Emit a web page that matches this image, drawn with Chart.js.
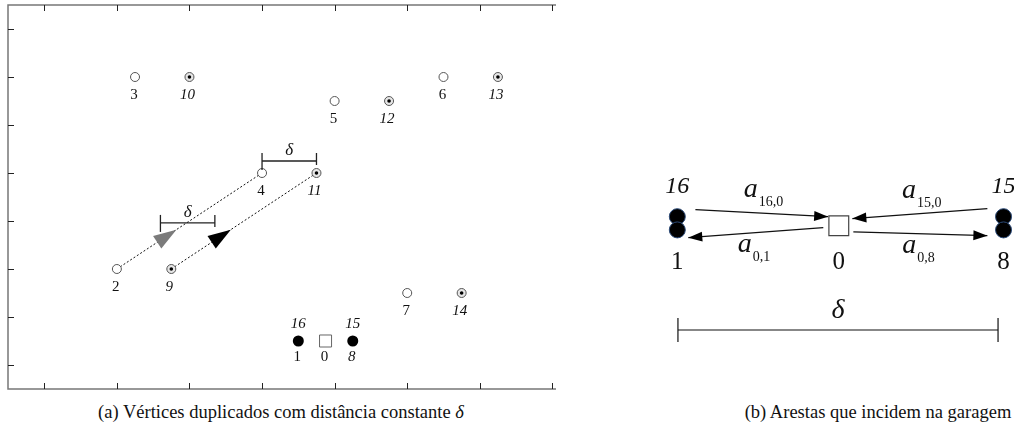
<!DOCTYPE html>
<html>
<head>
<meta charset="utf-8">
<script src="https://cdn.jsdelivr.net/npm/chart.js@4.4.0/dist/chart.umd.min.js"></script>
<style>
  body { margin: 0; width: 1014px; height: 439px; overflow: hidden; background: #fff; position: relative; font-family: 'Liberation Serif', 'DejaVu Serif', serif; }
  #wrapA { position: absolute; left: 0; top: 0; width: 560px; height: 400px; }
  #wrapB { position: absolute; left: 645px; top: 145px; width: 369px; height: 226px; }
  .caption { position: absolute; top: 402px; font-size: 18.5px; color: #111; white-space: nowrap; transform: translateX(-50%); }
</style>
</head>
<body>
<div id="wrapA"><canvas id="chartA" width="560" height="400"></canvas></div>
<div id="wrapB"><canvas id="chartB" width="369" height="226"></canvas></div>
<div class="caption" style="left:281px">(a) Vértices duplicados com distância constante <i>δ</i></div>
<div class="caption" style="left:878px">(b) Arestas que incidem na garagem</div>
<script>
// ---- panel (a): vertices and their duplicates ----
const origX = [1, 1.25, 3, 4, 5.5, 5];
const origY = [5, 1, 3, 1.5, 1, 5.5];
const origNames = ['2', '3', '4', '5', '6', '7'];

const dupX = [1.75, 2, 3.75, 4.75, 6.25, 5.75];
const dupY = [5, 1, 3, 1.5, 1, 5.5];
const dupNames = ['9', '10', '11', '12', '13', '14'];

const garageX = [3.5, 4.25];
const garageY = [6.5, 6.5];
const garageNames = ['1', '8'];
const garageTwins = ['16', '15'];

const depotX = [3.875];
const depotY = [6.5];

const xTicks = [0, 1, 2, 3, 4, 5, 6, 7];
const yTicks = [0, 1, 2, 3, 4, 5, 6, 7];

// dotted routes 2 -> 4 and 9 -> 11 (index into the arrays above)
const routeFrom = [0, 0];
const routeTo = [2, 2];
const arrowPos = 0.41;

// delta brackets
const deltaX0 = [3, 1.6];
const deltaX1 = [3.75, 2.35];
const deltaY = [2.75, 4.04];

// ---- panel (b): arcs at the garage ----
const nodeBX = [0, 0.5, 1.01];
const nodeBNames = ['1', '0', '8'];
const twinBNames = ['16', '', '15'];
const stackTopY = -0.028;
const stackBotY = 0.013;

const arcX0 = [0.056, 0.452, 0.96, 0.545];
const arcY0 = [-0.05, 0.006, -0.053, 0.019];
const arcX1 = [0.467, 0.034, 0.542, 0.96];
const arcY1 = [-0.028, 0.037, -0.022, 0.031];
const arcNames = ['16,0', '0,1', '15,0', '0,8'];
const arcSide = [-1, 1, -1, 1];

const spanX0 = 0.002;
const spanX1 = 0.993;
const spanY = 0.323;

const FONT = "'Liberation Serif', 'DejaVu Serif', serif";

function pts(xs, ys) {
    return xs.map((x, i) => ({ x: x, y: ys[i] }));
}

function seg(ctx, x0, y0, x1, y1) {
    ctx.beginPath();
    ctx.moveTo(x0, y0);
    ctx.lineTo(x1, y1);
    ctx.stroke();
}

function head(ctx, tx, ty, dx, dy, len, half, color) {
    const d = Math.hypot(dx, dy);
    const ux = dx / d, uy = dy / d;
    const bx = tx - ux * len, by = ty - uy * len;
    ctx.fillStyle = color;
    ctx.beginPath();
    ctx.moveTo(tx, ty);
    ctx.lineTo(bx - uy * half, by + ux * half);
    ctx.lineTo(bx + uy * half, by - ux * half);
    ctx.closePath();
    ctx.fill();
}

function text(ctx, str, x, y, size, italic) {
    ctx.font = (italic ? 'italic ' : '') + size + 'px ' + FONT;
    ctx.fillText(str, x, y);
}

const panelA = {
    id: 'panelA',
    beforeDatasetsDraw(chart) {
        const { ctx, chartArea: a, scales: { x, y } } = chart;
        ctx.save();
        ctx.strokeStyle = '#777';
        ctx.lineWidth = 1.5;
        ctx.beginPath();
        ctx.moveTo(a.right, a.top);
        ctx.lineTo(a.left, a.top);
        ctx.lineTo(a.left, a.bottom);
        ctx.lineTo(a.right, a.bottom);
        ctx.stroke();
        // inward ticks
        ctx.strokeStyle = '#222';
        ctx.lineWidth = 1;
        xTicks.forEach(v => {
            const px = Math.round(x.getPixelForValue(v)) + 0.5;
            seg(ctx, px, a.top, px, a.top + 6);
            seg(ctx, px, a.bottom, px, a.bottom - 6);
        });
        yTicks.forEach(v => {
            const py = Math.round(y.getPixelForValue(v)) + 0.5;
            seg(ctx, a.left, py, a.left + 6, py);
        });
        ctx.restore();
    },
    afterDatasetsDraw(chart) {
        const { ctx, scales: { x, y } } = chart;
        ctx.save();
        // arrows on the dotted routes
        const sets = [[origX, origY, '#7b7b7b'], [dupX, dupY, '#000']];
        sets.forEach((s, k) => {
            const x0 = x.getPixelForValue(s[0][routeFrom[k]]), y0 = y.getPixelForValue(s[1][routeFrom[k]]);
            const x1 = x.getPixelForValue(s[0][routeTo[k]]), y1 = y.getPixelForValue(s[1][routeTo[k]]);
            const tx = x0 + (x1 - x0) * arrowPos, ty = y0 + (y1 - y0) * arrowPos;
            head(ctx, tx, ty, x1 - x0, y1 - y0, 23, 7.5, s[2]);
        });
        // delta brackets
        ctx.strokeStyle = '#222';
        ctx.lineWidth = 1.3;
        ctx.fillStyle = '#111';
        ctx.textAlign = 'center';
        ctx.textBaseline = 'alphabetic';
        deltaY.forEach((v, i) => {
            const py = y.getPixelForValue(v);
            const l = x.getPixelForValue(deltaX0[i]), r = x.getPixelForValue(deltaX1[i]);
            seg(ctx, l, py, r, py);
            seg(ctx, l, py - 8, l, py + 9);
            seg(ctx, r, py - 8, r, py + 4);
            text(ctx, 'δ', (l + r) / 2, py - 6, 17, true);
        });
        // vertex labels
        ctx.fillStyle = '#111';
        ctx.textBaseline = 'middle';
        origNames.forEach((n, i) => text(ctx, n, x.getPixelForValue(origX[i]) - 1, y.getPixelForValue(origY[i]) + 18, 15, false));
        dupNames.forEach((n, i) => text(ctx, n, x.getPixelForValue(dupX[i]) - 2, y.getPixelForValue(dupY[i]) + 18, 15, true));
        garageNames.forEach((n, i) => {
            const px = x.getPixelForValue(garageX[i]), py = y.getPixelForValue(garageY[i]);
            text(ctx, n, px - 1, py + 16, 15, i === 1);
            text(ctx, garageTwins[i], px, py - 17, 15, true);
        });
        text(ctx, '0', x.getPixelForValue(depotX[0]) - 1, y.getPixelForValue(depotY[0]) + 16, 15, false);
        ctx.restore();
    }
};

new Chart(document.getElementById('chartA'), {
    type: 'scatter',
    data: {
        datasets: [
            { data: pts(dupX, dupY), pointRadius: 1.8, backgroundColor: '#000', borderWidth: 0 },
            { data: pts(dupX, dupY), pointRadius: 4.5, backgroundColor: '#e6e6e6', borderColor: '#555', borderWidth: 1 },
            { data: pts(origX, origY), pointRadius: 4.5, backgroundColor: '#fff', borderColor: '#555', borderWidth: 1 },
            { data: pts(garageX, garageY), pointRadius: 5.5, backgroundColor: '#000', borderColor: '#000', borderWidth: 0 },
            { data: pts(depotX, depotY), pointStyle: 'rect', pointRadius: 8.5, backgroundColor: '#fff', borderColor: '#666', borderWidth: 1 },
            {
                data: [{ x: origX[0], y: origY[0] }, { x: origX[2], y: origY[2] }],
                showLine: true, pointRadius: 0, borderColor: '#111', borderWidth: 1, borderDash: [2, 2]
            },
            {
                data: [{ x: dupX[0], y: dupY[0] }, { x: dupX[2], y: dupY[2] }],
                showLine: true, pointRadius: 0, borderColor: '#111', borderWidth: 1, borderDash: [2, 2]
            }
        ]
    },
    options: {
        responsive: false,
        animation: false,
        layout: { autoPadding: false, padding: { left: 8, top: 5, right: 4, bottom: 11 } },
        scales: {
            x: { type: 'linear', display: false, min: -0.5, max: 7.05 },
            y: { type: 'linear', display: false, min: -0.5, max: 7.5, reverse: true }
        },
        plugins: { legend: { display: false }, tooltip: { enabled: false } }
    },
    plugins: [panelA]
});

// ---- panel (b) ----
const panelB = {
    id: 'panelB',
    afterDatasetsDraw(chart) {
        const { ctx, scales: { x, y } } = chart;
        ctx.save();
        // arrow heads
        arcX1.forEach((v, i) => {
            const x0 = x.getPixelForValue(arcX0[i]), y0 = y.getPixelForValue(arcY0[i]);
            const x1 = x.getPixelForValue(v), y1 = y.getPixelForValue(arcY1[i]);
            head(ctx, x1, y1, x1 - x0, y1 - y0, 14, 5, '#000');
        });
        // arc labels a_{i,j}
        ctx.fillStyle = '#111';
        ctx.textAlign = 'left';
        ctx.textBaseline = 'alphabetic';
        arcNames.forEach((n, i) => {
            const mx = (x.getPixelForValue(arcX0[i]) + x.getPixelForValue(arcX1[i])) / 2;
            const my = (y.getPixelForValue(arcY0[i]) + y.getPixelForValue(arcY1[i])) / 2;
            const ax = mx - 18;
            const ay = arcSide[i] < 0 ? my - 16 : my + 19;
            text(ctx, 'a', ax, ay, 28, true);
            text(ctx, n, ax + 15, ay + 9, 14, false);
        });
        // node labels
        const base = y.getPixelForValue(0);
        ctx.textAlign = 'center';
        ctx.textBaseline = 'middle';
        nodeBNames.forEach((n, i) => {
            const px = x.getPixelForValue(nodeBX[i]);
            text(ctx, n, px, base + 37, 25, false);
            if (twinBNames[i]) text(ctx, twinBNames[i], px, base - 39, 24, true);
        });
        // delta span
        const l = x.getPixelForValue(spanX0), r = x.getPixelForValue(spanX1), py = y.getPixelForValue(spanY);
        ctx.strokeStyle = '#111';
        ctx.lineWidth = 1.2;
        seg(ctx, l, py, r, py);
        seg(ctx, l, py - 12, l, py + 12);
        seg(ctx, r, py - 12, r, py + 12);
        ctx.textBaseline = 'alphabetic';
        text(ctx, 'δ', (l + r) / 2, py - 12, 28, true);
        ctx.restore();
    }
};

const arcSets = arcNames.map((n, i) => ({
    data: [{ x: arcX0[i], y: arcY0[i] }, { x: arcX1[i], y: arcY1[i] }],
    showLine: true, pointRadius: 0, borderColor: '#111', borderWidth: 1.2
}));

new Chart(document.getElementById('chartB'), {
    type: 'scatter',
    data: {
        datasets: [
            {
                data: [{ x: nodeBX[1], y: 0 }],
                pointStyle: 'rect', pointRadius: 14, backgroundColor: '#fff', borderColor: '#444', borderWidth: 1.2
            },
            {
                data: [{ x: nodeBX[0], y: stackBotY }, { x: nodeBX[2], y: stackBotY }],
                pointRadius: 8, backgroundColor: '#000', borderColor: '#2b4a78', borderWidth: 1
            },
            {
                data: [{ x: nodeBX[0], y: stackTopY }, { x: nodeBX[2], y: stackTopY }],
                pointRadius: 8, backgroundColor: '#000', borderColor: '#2b4a78', borderWidth: 1
            },
            ...arcSets
        ]
    },
    options: {
        responsive: false,
        animation: false,
        layout: { autoPadding: false, padding: 0 },
        scales: {
            x: { type: 'linear', display: false, min: -0.1, max: 1.0424 },
            y: { type: 'linear', display: false, min: -0.25, max: 0.45, reverse: true }
        },
        plugins: { legend: { display: false }, tooltip: { enabled: false } }
    },
    plugins: [panelB]
});
</script>
</body>
</html>
